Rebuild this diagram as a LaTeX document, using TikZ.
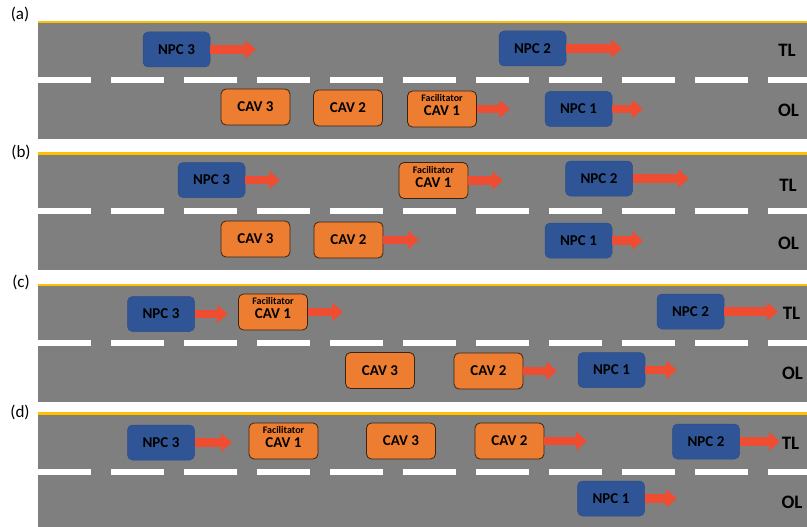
\documentclass[tikz,border=0pt]{standalone}
\usepackage{fontspec}
\setmainfont{Carlito}
\usetikzlibrary{arrows.meta}
\definecolor{road}{HTML}{7F7F7F}
\definecolor{ylw}{HTML}{FFC000}
\definecolor{npcblue}{HTML}{2F5597}
\definecolor{cavorange}{HTML}{ED7D31}
\definecolor{arrowred}{HTML}{EE4D32}
\definecolor{cavedge}{HTML}{3A2410}
\newcommand{\lowertxt}[1]{\raisebox{-2pt}[\height][\depth]{#1}}
\begin{document}
\begin{tikzpicture}[x=1pt,y=-1pt,
  car/.style={rectangle, rounded corners=5pt, inner sep=0pt, font=\fontsize{15}{15}\selectfont\bfseries, text=black},
  npc/.style={car, fill=npcblue, draw=npcblue!92!black, line width=0.5pt, minimum width=67pt, minimum height=35pt},
  cav/.style={car, fill=cavorange, draw=cavedge, line width=0.8pt, minimum width=69pt, minimum height=36pt},
  facil/.style={inner sep=0pt, font=\fontsize{10}{10}\selectfont\bfseries, text=black},
  move/.style={draw=arrowred, line width=8.5pt, -{Triangle[length=11pt,width=18pt,fill=arrowred]}},
  lane/.style={inner sep=0pt, font=\fontsize{19}{19}\selectfont\bfseries, text=black},
  panel/.style={inner sep=0pt, font=\fontsize{17}{17}\selectfont, text=black}
]
\useasboundingbox[fill=white] (0,0) rectangle (807,527);

% roads
\foreach \t/\b/\d in {22/139/80, 153.5/269.5/211, 285/402/342.5, 413.5/527/471.5}{
  \fill[road] (38,\t) rectangle (807,\b);
  \draw[ylw, line width=2.5pt] (38,\t) -- (807,\t);
  \draw[white, line width=6pt, dash pattern=on 53pt off 20pt] (38,\d) -- (807,\d);
}

% panel labels
\node[panel] (la) at (20,14.5) {(a)};
\node[panel] (lb) at (21,152.5) {(b)};
\node[panel] (lc) at (21,282) {(c)};
\node[panel] (ld) at (20,412) {(d)};

% lane labels
\node[lane] (tla) at (787,50) {TL};
\node[lane] (ola) at (788.5,110.5) {OL};
\node[lane] (tlb) at (788,185) {TL};
\node[lane] (olb) at (788.5,243) {OL};
\node[lane] (tlc) at (791.5,313.5) {TL};
\node[lane] (olc) at (792.5,373) {OL};
\node[lane] (tld) at (790.5,443) {TL};
\node[lane] (old) at (792,502) {OL};

% ---------- (a)
\node[npc] (a3) at (176.5,49.5) {NPC 3};
\node[npc] (a2) at (532.5,48.5) {NPC 2};
\node[cav] (ac3) at (255.5,107) {CAV 3};
\node[cav] (ac2) at (348,108) {CAV 2};
\node[cav] (ac1) at (442,109) {\lowertxt{CAV 1}};
\node[facil] (af) at ([yshift=10.5pt]ac1.center) {Facilitator};
\node[npc] (a1) at (578.5,109) {NPC 1};
\coordinate (a3t) at (256,49.5);
\coordinate (a2t) at (622,48.5);
\coordinate (ac1t) at (510,109);
\coordinate (a1t) at (643,109);
\draw[move] (a3.east) -- (a3t);
\draw[move] (a2.east) -- (a2t);
\draw[move] (ac1.east) -- (ac1t);
\draw[move] (a1.east) -- (a1t);

% ---------- (b)
\node[npc] (b3) at (211.5,180) {NPC 3};
\node[cav] (bc1) at (433.5,180.5) {\lowertxt{CAV 1}};
\node[facil] (bf) at ([yshift=10.5pt]bc1.center) {Facilitator};
\node[npc] (b2) at (599,178.5) {NPC 2};
\node[cav] (bc3) at (255.5,239) {CAV 3};
\node[cav] (bc2) at (348.5,240) {CAV 2};
\node[npc] (b1) at (578.5,240.5) {NPC 1};
\coordinate (b3t) at (280,180);
\coordinate (bc1t) at (503,180.5);
\coordinate (b2t) at (689,178.5);
\coordinate (bc2t) at (419,240);
\coordinate (b1t) at (643,240.5);
\draw[move] (b3.east) -- (b3t);
\draw[move] (bc1.east) -- (bc1t);
\draw[move] (b2.east) -- (b2t);
\draw[move] (bc2.east) -- (bc2t);
\draw[move] (b1.east) -- (b1t);

% ---------- (c)
\node[npc] (c3) at (161,314) {NPC 3};
\node[cav] (cc1) at (273,312) {\lowertxt{CAV 1}};
\node[facil] (cf) at ([yshift=10.5pt]cc1.center) {Facilitator};
\node[npc] (c2) at (690.5,311.5) {NPC 2};
\node[cav] (cc3) at (380,370.5) {CAV 3};
\node[cav] (cc2) at (488.5,371) {CAV 2};
\node[npc] (c1) at (611.5,370) {NPC 1};
\coordinate (c3t) at (228,314);
\coordinate (cc1t) at (343,312);
\coordinate (c2t) at (778,311.5);
\coordinate (cc2t) at (557,371);
\coordinate (c1t) at (677,370);
\draw[move] (c3.east) -- (c3t);
\draw[move] (cc1.east) -- (cc1t);
\draw[move] (c2.east) -- (c2t);
\draw[move] (cc2.east) -- (cc2t);
\draw[move] (c1.east) -- (c1t);

% ---------- (d)
\node[npc] (d3) at (161,442.5) {NPC 3};
\node[cav] (dc1) at (283.5,441) {\lowertxt{CAV 1}};
\node[facil] (df) at ([yshift=10.5pt]dc1.center) {Facilitator};
\node[cav] (dc3) at (401,441) {CAV 3};
\node[cav] (dc2) at (509.5,441) {CAV 2};
\node[npc] (d2) at (706,441.5) {NPC 2};
\node[npc] (d1) at (611,498.5) {NPC 1};
\coordinate (d3t) at (232,442.5);
\coordinate (dc2t) at (587,441);
\coordinate (d2t) at (780,441.5);
\coordinate (d1t) at (677,498.5);
\draw[move] (d3.east) -- (d3t);
\draw[move] (dc2.east) -- (dc2t);
\draw[move] (d2.east) -- (d2t);
\draw[move] (d1.east) -- (d1t);
\end{tikzpicture}
\end{document}
